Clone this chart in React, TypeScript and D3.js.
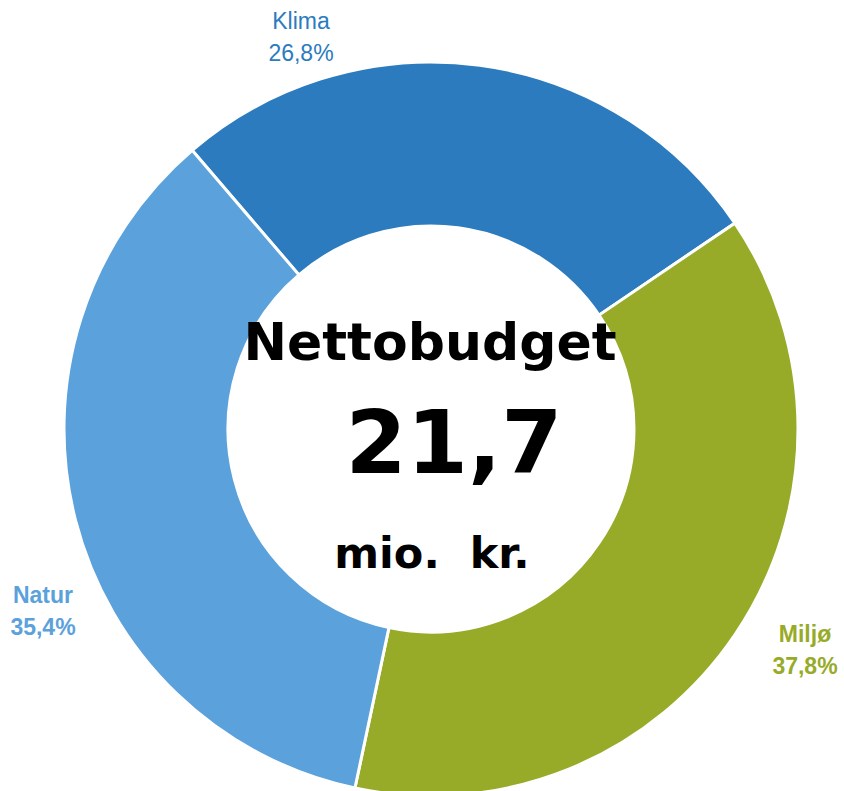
import * as d3 from 'd3';
import React, { useEffect, useRef } from 'react';

const categories = ['Klima', 'Miljø', 'Natur'];
const shares = [26.8, 37.8, 35.4];
const colors = ['#2B7BBE', '#97AB29', '#5BA1DB'];
const labelWeights = ['normal', 'bold', 'bold'];
const centerLines = ['Nettobudget', '21,7', 'mio.  kr.'];

const width = 844;
const height = 791;

const App: React.FC = () => {
  const ref = useRef<SVGSVGElement>(null);

  useEffect(() => {
    const svg = d3.select(ref.current);
    svg.selectAll('*').remove();

    const cx = 431;
    const cy = 429;
    const outer = 367;
    const inner = 203;

    const data = categories.map((name, i) => ({ name, value: shares[i], i }));

    const startAngle = (-40.6 * Math.PI) / 180;
    const pie = d3
      .pie<{ name: string; value: number; i: number }>()
      .value(d => d.value)
      .sort(null)
      .startAngle(startAngle)
      .endAngle(startAngle + 2 * Math.PI);

    const arc = d3
      .arc<d3.PieArcDatum<{ name: string; value: number; i: number }>>()
      .innerRadius(inner)
      .outerRadius(outer);

    const g = svg.append('g').attr('transform', `translate(${cx},${cy})`);

    g.selectAll('path')
      .data(pie(data))
      .join('path')
      .attr('d', arc)
      .attr('fill', d => colors[d.data.i])
      .attr('stroke', '#fff')
      .attr('stroke-width', 3);

    // outside labels
    const labelPos = [
      { x: 301, y: 29 },
      { x: 805, y: 642 },
      { x: 43, y: 603 },
    ];
    const fmt = (v: number) => v.toFixed(1).replace('.', ',') + '%';

    data.forEach((d, i) => {
      const t = svg
        .append('text')
        .attr('text-anchor', 'middle')
        .attr('font-family', '"Liberation Sans", Arial, sans-serif')
        .attr('font-size', 23)
        .attr('font-weight', labelWeights[i])
        .attr('fill', colors[i]);
      t.append('tspan').attr('x', labelPos[i].x).attr('y', labelPos[i].y).text(d.name);
      t.append('tspan').attr('x', labelPos[i].x).attr('y', labelPos[i].y + 32).text(fmt(d.value));
    });

    // center text
    const center = [
      { text: centerLines[0], x: 430, y: 360, size: 52 },
      { text: centerLines[1], x: 454, y: 473, size: 88 },
      { text: centerLines[2], x: 432, y: 568, size: 43 },
    ];
    center.forEach(c => {
      svg
        .append('text')
        .attr('x', c.x)
        .attr('y', c.y)
        .attr('text-anchor', 'middle')
        .attr('font-family', '"DejaVu Sans", Verdana, sans-serif')
        .attr('font-weight', 'bold')
        .attr('font-size', c.size)
        .attr('fill', '#000')
        .style('white-space', 'pre')
        .text(c.text);
    });
  }, []);

  return (
    <svg
      ref={ref}
      width={width}
      height={height}
      style={{ position: 'absolute', left: 0, top: 0, background: '#fff' }}
    />
  );
};

export default App;
